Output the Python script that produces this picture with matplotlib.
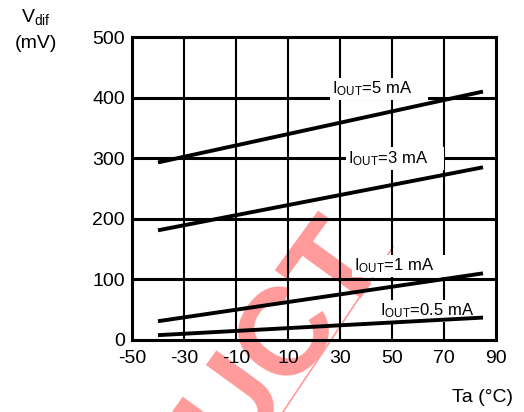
import matplotlib
matplotlib.use('Agg')
import matplotlib.pyplot as plt
from matplotlib.lines import Line2D

plt.rcParams['font.family'] = ['Liberation Sans', 'DejaVu Sans']
plt.rcParams['mathtext.fontset'] = 'custom'
plt.rcParams['mathtext.rm'] = 'Liberation Sans'
plt.rcParams['mathtext.it'] = 'Liberation Sans:italic'
plt.rcParams['mathtext.bf'] = 'Liberation Sans:bold'
plt.rcParams['axes.unicode_minus'] = False

# ---- data ----
temps = [-40, 85]
v_5mA = [293, 410]
v_3mA = [181, 285]
v_1mA = [31, 110]
v_05mA = [8, 37]
curve_labels = ["I$_{\\mathrm{OUT}}$=5 mA", "I$_{\\mathrm{OUT}}$=3 mA",
                "I$_{\\mathrm{OUT}}$=1 mA", "I$_{\\mathrm{OUT}}$=0.5 mA"]
x_ticks = [-50, -30, -10, 10, 30, 50, 70, 90]
y_ticks = [0, 100, 200, 300, 400, 500]

W, H = 524, 412
fig = plt.figure(figsize=(W / 100, H / 100), dpi=100)

# watermark (behind everything)
fig.text(386 / W, 1 - 252 / H, "PRODUCT", color='#ff9a9a', fontsize=90,
         fontweight='bold', rotation=54, rotation_mode='anchor',
         ha='right', va='baseline', zorder=-5)
fig.add_artist(Line2D([283 / W, 393 / W], [1 - 412 / H, 1 - 247 / H],
                      color='#ff9a9a', lw=1.2, zorder=-5))

ax = fig.add_axes([132 / W, 1 - 340 / H, (496 - 132) / W, (340 - 37) / H])
ax.patch.set_alpha(0)
ax.set_xlim(-50, 90)
ax.set_ylim(0, 500)
ax.set_xticks(x_ticks)
ax.set_yticks(y_ticks)
ax.tick_params(axis='both', length=0, labelsize=14)
ax.tick_params(axis='x', pad=7)
ax.tick_params(axis='y', pad=5)
for s in ax.spines.values():
    s.set_linewidth(2.2)

for v in x_ticks[1:-1]:
    ax.axvline(v, color='k', lw=1.5, zorder=1)
for h in y_ticks[1:-1]:
    ax.axhline(h, color='k', lw=2.2, zorder=1)

series = [v_5mA, v_3mA, v_1mA, v_05mA]
label_xy = [(27, 414), (33, 300), (35.4, 122), (45.4, 48)]
for vals, lab, (lx, ly) in zip(series, curve_labels, label_xy):
    ax.plot(temps, vals, color='k', lw=2.8, zorder=3, solid_capstyle='butt')
    ax.text(lx, ly, lab + "    ", fontsize=12, ha='left', va='center',
            zorder=2.5, bbox=dict(facecolor='white', edgecolor='none', pad=1.5))

fig.text(36 / W, 1 - 17 / H, "V$_{\\mathrm{dif}}$", fontsize=14, ha='center', va='center')
fig.text(36 / W, 1 - 43 / H, "(mV)", fontsize=14, ha='center', va='center')
fig.text(483 / W, 1 - 398 / H, "Ta (°C)", fontsize=14, ha='center', va='center')

fig.savefig('out.png', dpi=100)
